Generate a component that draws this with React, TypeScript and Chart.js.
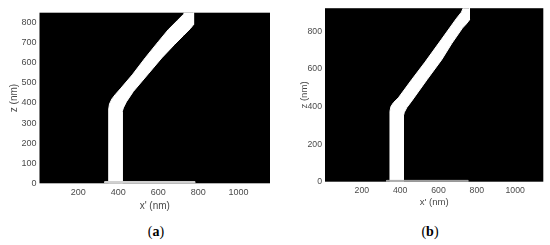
import React, { useEffect, useRef } from "react";
import Chart from "chart.js/auto";

// ---- tick labels ----
const xTickValues = [200, 400, 600, 800, 1000];
const yTickValuesA = [0, 100, 200, 300, 400, 500, 600, 700, 800];
const yTickValuesB = [0, 200, 400, 600, 800];

// ---- panel (a): bent pillar outline (x', z in nm) ----
const pillarAX = [352, 352, 356, 368, 385, 410, 470, 535, 600, 650, 695, 725, 732, 776, 776, 760, 725, 680, 617, 550, 475, 440, 425, 419, 419, 352];
const pillarAZ = [0, 370, 395, 420, 442, 470, 540, 625, 705, 765, 810, 840, 852, 852, 790, 770, 735, 690, 624, 545, 457, 405, 375, 355, 0, 0];
const baseAX = [333, 783, 783, 333, 333];
const baseAZ = [0, 0, 9, 9, 0];

// ---- panel (b): bent pillar outline (x', z in nm) ----
const pillarBX = [347, 347, 352, 365, 391, 460, 530, 615, 695, 720, 730, 762, 762, 745, 725, 670, 617, 540, 460, 435, 422, 417, 417, 347];
const pillarBZ = [0, 375, 400, 421, 447, 543, 637, 757, 871, 903, 928, 928, 862, 840, 818, 737, 650, 543, 429, 395, 370, 350, 0, 0];
const baseBX = [330, 755, 755, 330, 330];
const baseBZ = [0, 0, 7, 7, 0];

const TICK_COLOR = "#4a4a4a";

type PanelProps = {
  left: number;
  xs: number[][];
  zs: number[][];
  colors: string[];
  xMin: number;
  xMax: number;
  yMax: number;
  yTicks: number[];
  yAxisWidth: number;
  xAxisHeight: number;
  pad: { top: number; right: number };
  yTitlePad: number;
  xTitlePad: number;
  tickSize: number;
  titleSize: number;
};

const blackPlot = {
  id: "blackPlot",
  beforeDatasetsDraw(chart: any) {
    const { ctx, chartArea } = chart;
    ctx.save();
    ctx.fillStyle = "#000";
    ctx.fillRect(chartArea.left, chartArea.top, chartArea.right - chartArea.left, chartArea.bottom - chartArea.top);
    ctx.restore();
  },
};

function Panel(p: PanelProps) {
  const ref = useRef<HTMLCanvasElement | null>(null);
  useEffect(() => {
    if (!ref.current) return;
    const datasets = p.xs.map((xArr, i) => ({
      data: xArr.map((x, j) => ({ x, y: p.zs[i][j] })),
      showLine: true,
      fill: "shape",
      backgroundColor: p.colors[i],
      borderColor: p.colors[i],
      borderWidth: 1,
      pointRadius: 0,
      tension: 0,
    }));
    const chart = new Chart(ref.current, {
      type: "scatter",
      data: { datasets: datasets as any },
      options: {
        animation: false,
        responsive: false,
        events: [],
        layout: { padding: { top: p.pad.top, right: p.pad.right, left: 0, bottom: 0 } },
        plugins: { legend: { display: false }, tooltip: { enabled: false } },
        scales: {
          x: {
            type: "linear",
            min: p.xMin,
            max: p.xMax,
            grid: { display: false, drawTicks: false },
            border: { display: false },
            afterBuildTicks: (s: any) => {
              s.ticks = xTickValues.map((v) => ({ value: v }));
            },
            afterFit: (s: any) => {
              s.height = p.xAxisHeight;
            },
            ticks: {
              padding: 4,
              color: TICK_COLOR,
              font: { family: "'Liberation Sans', Arial, sans-serif", size: p.tickSize },
              maxRotation: 0,
              callback: (v: any) => String(v),
            },
            title: {
              display: true,
              text: "x' (nm)",
              color: TICK_COLOR,
              font: { family: "'Liberation Sans', Arial, sans-serif", size: p.titleSize, lineHeight: 1.2 },
              padding: { top: 0, bottom: p.xTitlePad },
            },
          },
          y: {
            type: "linear",
            min: 0,
            max: p.yMax,
            grid: { display: false, drawTicks: false },
            border: { display: false },
            afterBuildTicks: (s: any) => {
              s.ticks = p.yTicks.map((v) => ({ value: v }));
            },
            afterFit: (s: any) => {
              s.width = p.yAxisWidth;
            },
            ticks: {
              padding: 3,
              color: TICK_COLOR,
              font: { family: "'Liberation Sans', Arial, sans-serif", size: p.tickSize },
              callback: (v: any) => String(v),
            },
            title: {
              display: true,
              text: "z (nm)",
              color: TICK_COLOR,
              font: { family: "'Liberation Sans', Arial, sans-serif", size: p.titleSize, lineHeight: 1.2 },
              padding: { top: p.yTitlePad, bottom: 0 },
            },
          },
        },
      },
      plugins: [blackPlot],
    });
    return () => chart.destroy();
  }, []);
  return (
    <div style={{ position: "absolute", left: p.left, top: 0, width: 275, height: 220 }}>
      <canvas ref={ref} width={275} height={220} style={{ display: "block" }} />
    </div>
  );
}

export default function App() {
  const capStyle: React.CSSProperties = {
    position: "absolute",
    top: 223,
    width: 40,
    marginLeft: -20,
    textAlign: "center",
    fontFamily: "'Liberation Serif', 'DejaVu Serif', serif",
    fontSize: 14,
    lineHeight: "18px",
    color: "#000",
  };
  return (
    <div style={{ position: "fixed", left: 0, top: 0, width: 550, height: 245, background: "#fff", overflow: "hidden" }}>
      <Panel
        left={0}
        xs={[baseAX, pillarAX]}
        zs={[baseAZ, pillarAZ]}
        colors={["#d0d0d0", "#ffffff"]}
        xMin={6}
        xMax={1158}
        yMax={849}
        yTicks={yTickValuesA}
        yAxisWidth={39.5}
        xAxisHeight={36.7}
        pad={{ top: 12.7, right: 5 }}
        yTitlePad={8.3}
        xTitlePad={7.3}
        tickSize={9}
        titleSize={10}
      />
      <Panel
        left={275}
        xs={[baseBX, pillarBX]}
        zs={[baseBZ, pillarBZ]}
        colors={["#a8a8a8", "#ffffff"]}
        xMin={8}
        xMax={1147}
        yMax={924}
        yTicks={yTickValuesB}
        yAxisWidth={50}
        xAxisHeight={38.3}
        pad={{ top: 7.3, right: 6.7 }}
        yTitlePad={23.3}
        xTitlePad={12.3}
        tickSize={8.7}
        titleSize={9.6}
      />
      <div style={{ ...capStyle, left: 156 }}>
        (<b>a</b>)
      </div>
      <div style={{ ...capStyle, left: 430 }}>
        (<b>b</b>)
      </div>
    </div>
  );
}
